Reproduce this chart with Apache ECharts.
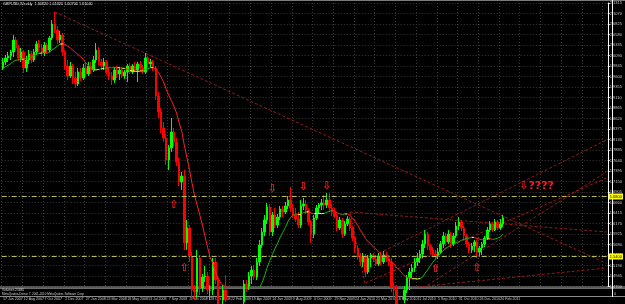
<!DOCTYPE html>
<html><head><meta charset="utf-8">
<script src="https://cdn.jsdelivr.net/npm/echarts@6/dist/echarts.min.js"></script>
<style>html,body{margin:0;padding:0;background:#000;}#c{width:625px;height:304px;}</style>
</head><body><div id="c"></div>
<script>
// ---- data (GBPUSD weekly) ----
const firstWeek = [2007, 5, 17];   // 17 Jun 2007
const slotCount = 234;             // weekly slots on the time axis (incl. empty future)
const labelEvery = 8;              // a date label every 8 weeks
const lastLabelIndex = 192;        // 20 Feb 2011
const monthNames = ['Jan','Feb','Mar','Apr','May','Jun','Jul','Aug','Sep','Oct','Nov','Dec'];

const opens = [1.9798,1.9938,2.0032,2.0078,2.0172,2.0452,2.0265,2.0032,2.0172,1.9798,1.9985,2.0125,1.9985,2.0172,2.0358,2.0265,2.0148,2.0335,2.0218,2.0498,
2.0825,2.0685,2.0452,2.0568,2.0172,1.9845,1.9612,1.9845,1.9565,1.9425,1.9705,1.9565,1.9798,1.9658,1.9845,1.9752,1.9985,2.0218,1.9938,1.9845,
1.9938,1.9705,1.9612,1.9518,1.9752,1.9658,1.9752,1.9612,1.9705,1.9845,1.9705,1.9845,1.9752,1.9892,1.9798,1.9705,2.0032,1.9892,1.9938,1.9798,
1.9145,1.8772,1.8398,1.8165,1.7652,1.7932,1.8305,1.8072,1.7605,1.7138,1.7278,1.5715,1.6065,1.5412,1.4618,1.4572,1.5365,1.4665,1.4922,1.4945,
1.4618,1.4618,1.5272,1.4852,1.3918,1.4385,1.4618,1.4385,1.4152,1.4198,1.3965,1.3918,1.4502,1.4338,1.4758,1.4712,1.4945,1.5085,1.4922,1.5272,
1.5668,1.5972,1.6252,1.6555,1.5972,1.6368,1.6135,1.6322,1.6508,1.6438,1.6578,1.6718,1.6532,1.6368,1.6275,1.6135,1.6578,1.6625,1.6485,1.6205,
1.5925,1.6298,1.6532,1.6602,1.6648,1.6602,1.6718,1.6532,1.6438,1.6345,1.6065,1.6252,1.5925,1.6158,1.6275,1.6065,1.5832,1.5598,1.5388,1.5272,
1.5412,1.5038,1.5365,1.5435,1.5342,1.5225,1.5412,1.5272,1.5435,1.5365,1.5272,1.4688,1.4618,1.4268,1.4478,1.4385,1.4618,1.4898,1.5038,1.5132,
1.5272,1.5365,1.5458,1.5692,1.5925,1.5645,1.5552,1.5458,1.5412,1.5505,1.5692,1.5878,1.5738,1.5925,1.5692,1.5878,1.6112,1.6205,1.6065,1.5878,
1.5692,1.5552,1.5645,1.5738,1.5505,1.5598,1.5692,1.5832,1.6018,1.6158,1.6018,1.6205,1.6065,1.6158];
const closes = [1.9938,2.0032,2.0078,2.0172,2.0452,2.0265,2.0032,2.0172,1.9798,1.9985,2.0125,1.9985,2.0172,2.0358,2.0265,2.0148,2.0335,2.0218,2.0498,2.0825,
2.0685,2.0452,2.0568,2.0172,1.9845,1.9612,1.9845,1.9565,1.9425,1.9705,1.9565,1.9798,1.9658,1.9845,1.9752,1.9985,2.0218,1.9938,1.9845,1.9938,
1.9705,1.9612,1.9518,1.9752,1.9658,1.9752,1.9612,1.9705,1.9845,1.9705,1.9845,1.9752,1.9892,1.9798,1.9705,2.0032,1.9892,1.9938,1.9798,1.9145,
1.8772,1.8398,1.8165,1.7652,1.7932,1.8305,1.8072,1.7605,1.7138,1.7278,1.5715,1.6065,1.5412,1.4618,1.4572,1.5365,1.4665,1.4922,1.4945,1.4618,
1.4618,1.5272,1.4852,1.3918,1.4385,1.4618,1.4385,1.4152,1.4198,1.3965,1.3918,1.4502,1.4338,1.4758,1.4712,1.4945,1.5085,1.4922,1.5272,1.5668,
1.5972,1.6252,1.6555,1.5972,1.6368,1.6135,1.6322,1.6508,1.6438,1.6578,1.6718,1.6532,1.6368,1.6275,1.6135,1.6578,1.6625,1.6485,1.6205,1.5925,
1.6298,1.6532,1.6602,1.6648,1.6602,1.6718,1.6532,1.6438,1.6345,1.6065,1.6252,1.5925,1.6158,1.6275,1.6065,1.5832,1.5598,1.5388,1.5272,1.5412,
1.5038,1.5365,1.5435,1.5342,1.5225,1.5412,1.5272,1.5435,1.5365,1.5272,1.4688,1.4618,1.4268,1.4478,1.4385,1.4618,1.4898,1.5038,1.5132,1.5272,
1.5365,1.5458,1.5692,1.5925,1.5645,1.5552,1.5458,1.5412,1.5505,1.5692,1.5878,1.5738,1.5925,1.5692,1.5878,1.6112,1.6205,1.6065,1.5878,1.5692,
1.5552,1.5645,1.5738,1.5505,1.5598,1.5692,1.5832,1.6018,1.6158,1.6018,1.6205,1.6065,1.6158,1.6298];
const lows = [1.9752,1.9868,1.9938,1.9985,2.0055,2.0218,1.9962,1.9938,1.9682,1.9705,1.9892,1.9915,1.9938,2.0102,2.0172,2.0078,2.0078,2.0125,2.0172,2.0452,
2.0615,2.0358,2.0382,2.0078,1.9752,1.9518,1.9565,1.9425,1.9332,1.9378,1.9495,1.9518,1.9588,1.9612,1.9658,1.9705,1.9915,1.9868,1.9752,1.9752,
1.9635,1.9518,1.9402,1.9448,1.9565,1.9518,1.9565,1.9542,1.9472,1.9658,1.9658,1.9705,1.9472,1.9728,1.9658,1.9658,1.9822,1.9798,1.9728,1.9052,
1.8632,1.8282,1.8072,1.7535,1.7418,1.7838,1.7978,1.7512,1.7045,1.6952,1.5552,1.5552,1.5272,1.4385,1.4385,1.4432,1.4502,1.4572,1.4805,1.4525,
1.4385,1.4502,1.4758,1.3802,1.3685,1.4268,1.4338,1.4035,1.3965,1.3872,1.3685,1.3872,1.4198,1.4268,1.4572,1.4618,1.4758,1.4852,1.4852,1.5178,
1.5598,1.5878,1.6158,1.5878,1.5878,1.6065,1.6065,1.6252,1.6322,1.6392,1.6508,1.6438,1.6298,1.6205,1.6065,1.6065,1.6485,1.6392,1.6135,1.5715,
1.5832,1.6252,1.6415,1.6485,1.6485,1.6532,1.6438,1.6345,1.6298,1.5995,1.6018,1.5832,1.5878,1.6112,1.5995,1.5762,1.5482,1.5318,1.5178,1.5155,
1.4922,1.4992,1.5155,1.5272,1.5178,1.5178,1.5202,1.5225,1.5272,1.5178,1.4572,1.4385,1.4035,1.4152,1.4268,1.4315,1.4548,1.4618,1.4898,1.5038,
1.5178,1.5248,1.5365,1.5598,1.5552,1.5458,1.5388,1.5342,1.5342,1.5458,1.5598,1.5645,1.5692,1.5598,1.5645,1.5832,1.6018,1.5995,1.5785,1.5622,
1.5482,1.5482,1.5505,1.5365,1.5412,1.5435,1.5622,1.5785,1.5972,1.5972,1.5995,1.6018,1.6018,1.6088];
const highs = [2.0032,2.0102,2.0172,2.0218,2.0568,2.0522,2.0335,2.0265,2.0218,2.0078,2.0218,2.0195,2.0242,2.0428,2.0452,2.0358,2.0405,2.0382,2.0545,2.0918,
2.1105,2.0778,2.0662,2.0615,2.0218,1.9985,1.9938,1.9892,1.9705,1.9798,1.9798,1.9892,1.9915,1.9938,1.9938,2.0078,2.0382,2.0288,2.0008,2.0032,
1.9985,1.9798,1.9705,1.9822,1.9845,1.9798,1.9822,1.9752,1.9892,1.9915,1.9892,1.9938,1.9938,1.9962,1.9868,2.0148,2.0078,2.0008,1.9985,1.9845,
1.9238,1.8865,1.8538,1.8258,1.8002,1.8632,1.8398,1.8165,1.7698,1.7372,1.7418,1.6252,1.6135,1.5505,1.4735,1.5552,1.5435,1.4992,1.5178,1.5038,
1.4735,1.5365,1.5365,1.4922,1.4478,1.4735,1.4968,1.4502,1.4385,1.4338,1.4105,1.4572,1.4665,1.4852,1.4852,1.5038,1.5178,1.5202,1.5365,1.5785,
1.6065,1.6368,1.6648,1.6625,1.6438,1.6532,1.6392,1.6578,1.6578,1.6672,1.6812,1.7022,1.6625,1.6532,1.6438,1.6718,1.6765,1.6718,1.6532,1.6252,
1.6368,1.6602,1.6648,1.6742,1.6835,1.6882,1.6882,1.6625,1.6532,1.6392,1.6322,1.6298,1.6228,1.6345,1.6322,1.6112,1.5878,1.5668,1.5482,1.5482,
1.5458,1.5435,1.5482,1.5482,1.5435,1.5482,1.5505,1.5528,1.5505,1.5435,1.5365,1.4805,1.4735,1.4618,1.4572,1.4712,1.4968,1.5132,1.5225,1.5365,
1.5482,1.5552,1.5785,1.6018,1.5972,1.5692,1.5622,1.5552,1.5598,1.5762,1.5972,1.5948,1.6018,1.5972,1.5948,1.6205,1.6322,1.6252,1.6112,1.5925,
1.5738,1.5715,1.5785,1.5785,1.5645,1.5738,1.5878,1.6088,1.6228,1.6205,1.6275,1.6252,1.6275,1.6368];
// closes of the 12 weeks before the first visible bar (needed for the moving average)
const priorCloses = [1.9540,1.9610,1.9690,1.9800,1.9900,1.9890,1.9960,1.9840,1.9750,1.9800,1.9820,1.9730];
const maPeriod = 13;
const maFlat = 0.0008;

// price axis
const yMin = 1.4700, yMax = 2.1315, yStep = 0.0245;

// horizontal levels and trend lines [weekIndex, price]
const levels = [1.6835, 1.5412];
const trendLines = [
  [[20, 2.1105], [233, 1.5240]],
  [[134, 1.6439], [233, 1.5972]],
  [[134, 1.6439], [140, 1.4700]],
  [[140, 1.4783], [233, 1.7232]],
  [[147, 1.5529], [233, 1.8119]],
  [[164, 1.4736], [233, 1.7372]],
  [[160, 1.4689], [233, 1.5132]]
];
// arrows drawn on the chart [weekIndex, price, text]
const notes = [
  [66, 1.6602, '⇧'], [70, 1.5132, '⇧'],
  [104, 1.6976, '⇩'], [116, 1.7022, '⇩'], [125, 1.7046, '⇩'],
  [206, 1.7046, '⇩????'],
  [167, 1.5109, '⇧'], [183, 1.5132, '⇧']
];
const titleText = 'GBPUSD,Weekly  1.60820 1.61320 1.60700 1.61040';
const panelText = 'Volumes 25680';
const copyText = 'MetaQuotes-Demo: © 2001-2010 MetaQuotes Software Corp.';

// ---- build ----
const cats = [];
for (let i = 0; i < slotCount; i++) {
  const d = new Date(Date.UTC(firstWeek[0], firstWeek[1], firstWeek[2] + 7 * i));
  cats.push(d.getUTCDate() + ' ' + monthNames[d.getUTCMonth()] + ' ' + d.getUTCFullYear());
}
const candles = opens.map((o, i) => [o, closes[i], lows[i], highs[i]]);
const allCloses = priorCloses.concat(closes);
const ma = closes.map((c, i) => {
  let s = 0;
  for (let k = 0; k < maPeriod; k++) s += allCloses[i + priorCloses.length - k];
  return +(s / maPeriod).toFixed(5);
});
const cUp = '#14b414', cDn = '#ff2020', cFlat = '#ffff30';
const pieces = [];
for (let i = 1; i < ma.length; i++) {
  const d = ma[i] - ma[i - 1];
  const col = d > maFlat ? cUp : (d < -maFlat ? cDn : cFlat);
  const last = pieces[pieces.length - 1];
  if (last && last.color === col) last.lte = i;
  else pieces.push(i === 1 ? {gte: 0, lte: 1, color: col} : {gt: i - 1, lte: i, color: col});
}
const lastClose = closes[closes.length - 1];

const series = [{
  type: 'candlestick', data: candles, barWidth: 2, clip: true,
  itemStyle: {color: '#00ff00', color0: '#ff0000', borderColor: '#00ff00', borderColor0: '#ff0000', borderWidth: 1},
  markLine: {
    silent: true, symbol: 'none', animation: false,
    data: levels.map(v => ({yAxis: v})).concat([{yAxis: lastClose, lineStyle: {opacity: 0},
      label: {backgroundColor: '#ffffff'}}]),
    lineStyle: {color: '#bdbd55', type: [5, 2, 1, 2], width: 1},
    label: {show: true, position: 'end', distance: 1, formatter: p => p.value.toFixed(4),
      backgroundColor: '#ffff00', color: '#000', fontSize: 4, padding: [1, 1], fontFamily: 'Liberation Sans'}
  }
}, {
  type: 'line', data: ma, symbol: 'none', lineStyle: {width: 1}, silent: true, z: 3
}];
trendLines.forEach(t => series.push({
  type: 'line', data: t, symbol: 'none', silent: true, z: 1,
  lineStyle: {color: '#8e1c1c', type: [3, 2], width: 1}
}));
series.push({
  type: 'scatter', symbol: 'circle', symbolSize: 2, silent: true, z: 5, clip: false,
  itemStyle: {color: 'rgba(0,0,0,0)'},
  data: notes.map(n => ({value: [n[0], n[1]], name: n[2]})),
  label: {show: true, position: 'inside', formatter: p => p.name, color: '#f02020', opacity: 1,
    fontSize: 11, fontWeight: 'bold', fontFamily: 'DejaVu Sans'}
});

const chart = echarts.init(document.getElementById('c'), null, {renderer: 'canvas'});
chart.setOption({
  backgroundColor: '#000', animation: false,
  grid: {left: 0, right: 13, top: 3, height: 283.5, containLabel: false},
  xAxis: {
    type: 'category', data: cats, boundaryGap: true,
    axisLine: {show: false}, axisTick: {show: false},
    axisLabel: {interval: (i) => i % labelEvery === 0 && i <= lastLabelIndex, color: '#c8c8c8',
      fontSize: 3.6, margin: 10, align: 'left', fontFamily: 'Liberation Sans'},
    splitLine: {show: true, interval: (i) => i % labelEvery === 0, lineStyle: {color: '#3a3a3a', type: [1, 2], width: 1}}
  },
  yAxis: {
    type: 'value', position: 'right', min: yMin, max: yMax, interval: yStep, scale: true,
    axisLine: {show: true, lineStyle: {color: '#ffffff', width: 1}},
    axisTick: {show: true, length: 2, lineStyle: {color: '#ffffff'}},
    axisLabel: {color: '#c8c8c8', fontSize: 4, margin: 2, formatter: v => v.toFixed(4), fontFamily: 'Liberation Sans'},
    splitLine: {show: true, lineStyle: {color: '#3a3a3a', type: [1, 2], width: 1}}
  },
  visualMap: [{type: 'piecewise', show: false, dimension: 0, seriesIndex: 1, pieces: pieces}],
  series: series,
  graphic: [
    {type: 'line', shape: {x1: 0, y1: 0.5, x2: 625, y2: 0.5}, style: {stroke: '#7a7a7a', lineWidth: 1}, silent: true},
    {type: 'line', shape: {x1: 0, y1: 287, x2: 625, y2: 287}, style: {stroke: '#b4b4b4', lineWidth: 1}, silent: true},
    {type: 'line', shape: {x1: 0, y1: 288.5, x2: 625, y2: 288.5}, style: {stroke: '#6a6a6a', lineWidth: 1}, silent: true},
    {type: 'line', shape: {x1: 0, y1: 296.5, x2: 625, y2: 296.5}, style: {stroke: '#8a8a8a', lineWidth: 1}, silent: true},
    {type: 'line', shape: {x1: 612.5, y1: 0, x2: 612.5, y2: 297}, style: {stroke: '#ffffff', lineWidth: 1}, silent: true},
    {type: 'text', left: 3, top: 2, silent: true, style: {text: titleText, fill: '#ffffff', fontSize: 3.8, fontFamily: 'Liberation Sans'}},
    {type: 'text', left: 2, top: 289, silent: true, style: {text: panelText, fill: '#d0d0d0', fontSize: 3.2, fontFamily: 'Liberation Sans'}},
    {type: 'text', left: 2, top: 293, silent: true, style: {text: copyText, fill: '#d0d0d0', fontSize: 3, fontFamily: 'Liberation Sans'}},
    {type: 'text', left: 614, top: 292, silent: true, style: {text: '0', fill: '#c8c8c8', fontSize: 3.6, fontFamily: 'Liberation Sans'}}
  ]
});
</script></body></html>
